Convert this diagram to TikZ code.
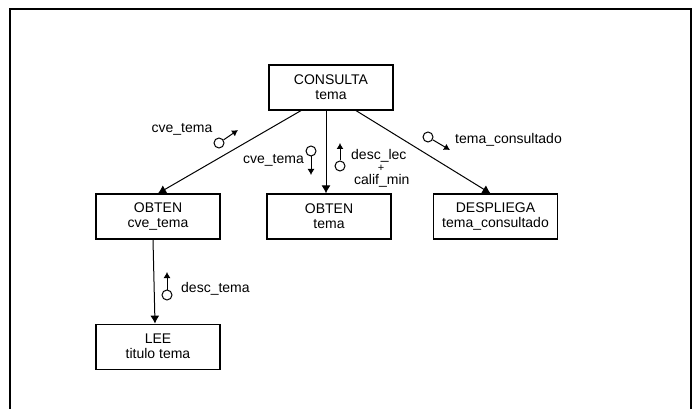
\documentclass[tikz,border=0pt]{standalone}
\usepackage{fontspec}
\setmainfont{Liberation Sans}
\usepackage{tikz}
\usetikzlibrary{arrows.meta,positioning}
\tikzset{
  modbox/.style={draw, line width=1.2pt, align=center, minimum width=124pt, minimum height=45pt, inner sep=2pt},
  modarr/.style={-{Latex[length=8pt,width=9pt]}, line width=1pt},
  flag/.style={draw, line width=1pt, circle, minimum size=10pt, inner sep=0pt},
  flagarr/.style={-{Latex[length=6pt,width=7pt]}, line width=1pt},
  lbl/.style={inner sep=0pt, align=center}
}

\begin{document}
\begin{tikzpicture}[x=1pt, y=-1pt, font=\fontsize{14}{15}\selectfont, node distance=84pt]
  \useasboundingbox (0,0) rectangle (694,409);
  % frame
  \draw[line width=1.3pt] (10,409) -- (10,9) -- (691,9) -- (691,409);
  % modules
  \node[modbox] (consulta) at (331,87.5) {CONSULTA\\tema};
  \node[modbox] (obtencve) at (158,216.5) {OBTEN\\cve\_tema};
  \node[modbox] (obtentema) at (329,216.5) {OBTEN\\tema};
  \node[modbox] (despliega) at (495.5,216.5) {DESPLIEGA\\tema\_consultado};
  \node[modbox, below=of obtencve] (lee) {LEE\\titulo tema};
  % calls
  \draw[modarr] ([xshift=-30pt]consulta.south) -- (obtencve.north);
  \draw[modarr] ([xshift=-5pt]consulta.south) -- ([xshift=-3pt]obtentema.north);
  \draw[modarr] ([xshift=25pt]consulta.south) -- ([xshift=-5pt]despliega.north);
  \draw[modarr] ([xshift=-5pt]obtencve.south) -- ([xshift=-3pt]lee.north);
  % couples
  \node[flag] (f1) at (219,143) {};
  \coordinate (f1t) at (238,130);
  \draw[flagarr] (f1) -- (f1t);
  \node[lbl] (l1) at (182,129) {cve\_tema};
  \node[flag] (f2) at (311,151) {};
  \coordinate (f2t) at (311,175);
  \draw[flagarr] (f2) -- (f2t);
  \node[lbl, anchor=east] (l2) at (304,160) {cve\_tema};
  \node[flag] (f3) at (340,166) {};
  \coordinate (f3t) at (340,143);
  \draw[flagarr] (f3) -- (f3t);
  \node[lbl, anchor=base west] (l3a) at (351,160) {desc\_lec};
  \node[lbl, font=\fontsize{11}{11}\selectfont, anchor=base] (l3b) at (381,172) {+};
  \node[lbl, anchor=base west] (l3c) at (354,185) {calif\_min};
  \node[flag] (f4) at (428,137) {};
  \coordinate (f4t) at (450,150);
  \draw[flagarr] (f4) -- (f4t);
  \node[lbl, anchor=west] (l4) at (455,140) {tema\_consultado};
  \node[flag] (f5) at (167,295) {};
  \coordinate (f5t) at (167,272);
  \draw[flagarr] (f5) -- (f5t);
  \node[lbl, anchor=west] (l5) at (181,289) {desc\_tema};
\end{tikzpicture}
\end{document}
